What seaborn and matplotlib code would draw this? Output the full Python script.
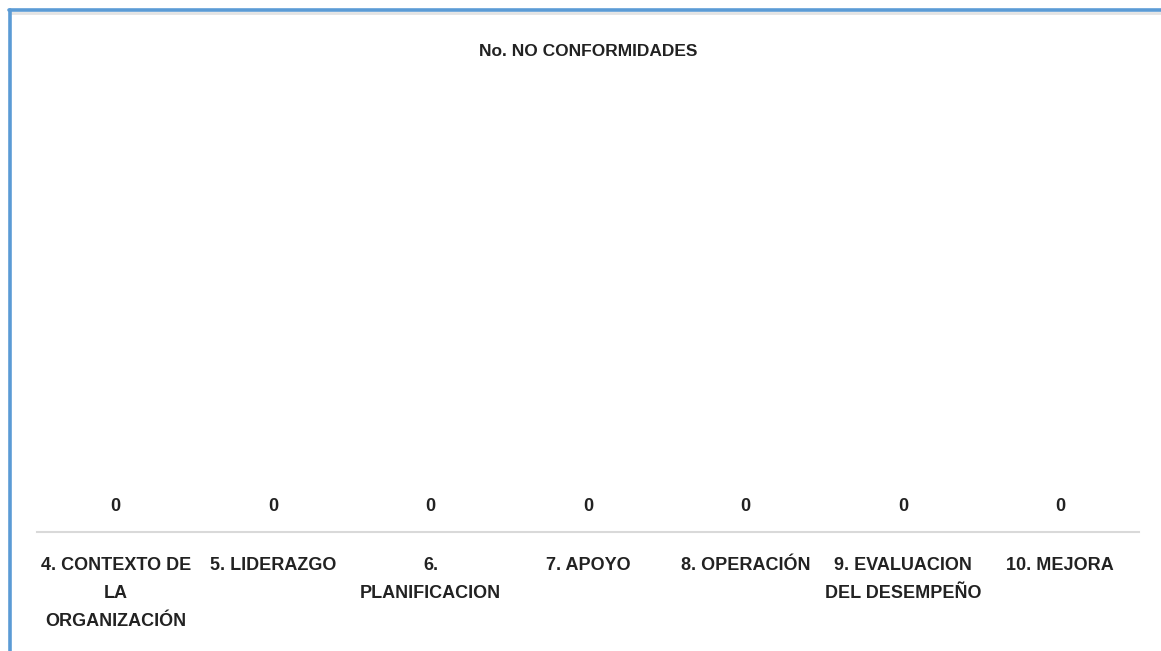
import matplotlib
matplotlib.use('Agg')
import matplotlib.pyplot as plt
from matplotlib.lines import Line2D
import seaborn as sns
import pandas as pd

# datos del grafico
categorias = ['4. CONTEXTO DE\nLA\nORGANIZACIÓN', '5. LIDERAZGO', '6.\nPLANIFICACION',
              '7. APOYO', '8. OPERACIÓN', '9. EVALUACION\nDEL DESEMPEÑO', '10. MEJORA']
no_conformidades = [0, 0, 0, 0, 0, 0, 0]
titulo = 'No. NO CONFORMIDADES'

sns.set_style('white')
plt.rcParams['font.family'] = ['Liberation Sans Narrow', 'Liberation Sans', 'DejaVu Sans']

df = pd.DataFrame({'categoria': categorias, 'valor': no_conformidades})

fig = plt.figure(figsize=(11.61, 6.51), dpi=100)
ax = fig.add_axes([37 / 1161, 119 / 651, 1102 / 1161, 450 / 651])

sns.barplot(data=df, x='categoria', y='valor', color='#5B9BD5', ax=ax)
ax.set_ylim(0, 1)
ax.set_xlim(-0.5, len(categorias) - 0.5)

for cont in ax.containers:
    ax.bar_label(cont, fmt='%d', padding=12, fontsize=13, fontweight='bold', color='#222222')

ax.set_xlabel('')
ax.set_ylabel('')
ax.set_yticks([])
ax.tick_params(axis='x', length=0, pad=18)
for lab in ax.get_xticklabels():
    lab.set_fontsize(13)
    lab.set_fontweight('bold')
    lab.set_color('#222222')
    lab.set_linespacing(1.83)
    lab.set_verticalalignment('top')

for s in ['top', 'left', 'right']:
    ax.spines[s].set_visible(False)
ax.spines['bottom'].set_color('#D9D9D9')
ax.spines['bottom'].set_linewidth(1.5)

fig.text(588 / 1161, 1 - 52 / 651, titulo, ha='center', va='center',
         fontsize=12.5, fontweight='bold', color='#222222')

# marco azul (izquierda y arriba)
W, H = 1161, 651
fig.add_artist(Line2D([10 / W, 1], [1 - 12.5 / H, 1 - 12.5 / H], color='#E3E3E3', lw=2.0))
fig.add_artist(Line2D([10 / W, 10 / W], [0, 1 - 9.5 / H], color='#5B9BD5', lw=2.6))
fig.add_artist(Line2D([8.5 / W, 1], [1 - 9.5 / H, 1 - 9.5 / H], color='#5B9BD5', lw=2.6))

fig.savefig('out.png', dpi=100)
